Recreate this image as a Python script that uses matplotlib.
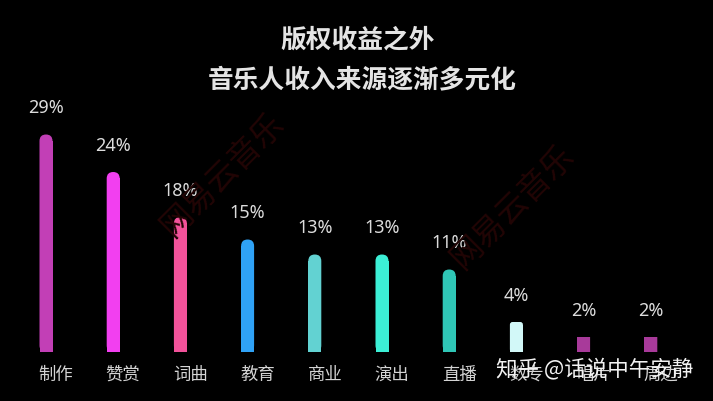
import numpy as np
import matplotlib.pyplot as plt
from matplotlib.patches import FancyBboxPatch

plt.rcParams['font.family'] = ['Noto Sans CJK SC', 'DejaVu Sans']

categories = ['制作', '赞赏', '词曲', '教育', '商业', '演出', '直播', '数专', '唱片', '周边']
values = [29, 24, 18, 15, 13, 13, 11, 4, 2, 2]
colors = ['#c23fb6', '#f23ff0', '#f2529a', '#2fa2f6', '#62d2d2', '#3cefd6',
          '#2fc6b6', '#d2f8f8', '#a83a9a', '#a83a9a']
title_lines = ['版权收益之外', '音乐人收入来源逐渐多元化']

W, H = 713, 401
fig = plt.figure(figsize=(W / 100, H / 100), dpi=100, facecolor='black')

# axes placed so bar 0 sits at x=46px, bottom at y=352px, 7.5 px per percent
step = 67.2
ax_left = 46 - step / 2
ax_w = step * len(categories)
ax_bottom = H - 352
ax_h = 7.5 * 30
ax = fig.add_axes([ax_left / W, ax_bottom / H, ax_w / W, ax_h / H])
ax.set_facecolor('black')
ax.set_xlim(-0.5, len(categories) - 0.5)
ax.set_ylim(0, 30)
ax.axis('off')

x = np.arange(len(categories))
bw = 13 / step
# px->data scale
sx = step          # px per x-unit
sy = 7.5           # px per y-unit
aspect = sx / sy

# faint watermarks behind the bars
fig.text(222 / W, 1 - 175 / H, '网易云音乐', rotation=45, ha='center', va='center',
         color='#220505', fontsize=23, zorder=0)
fig.text(512 / W, 1 - 207 / H, '网易云音乐', rotation=45, ha='center', va='center',
         color='#220505', fontsize=23, zorder=0)

for xi, v, c in zip(x, values, colors):
    if v >= 10:
        r = bw / 2
    elif v >= 4:
        r = bw / 5
    else:
        r = 0.0001
    ry = r * aspect
    ax.bar(xi, max(v - ry, 0.01), width=bw, color=c, linewidth=0)
    p = FancyBboxPatch((xi - bw / 2, 0), bw, v,
                       boxstyle='round,pad=0,rounding_size=%f' % r,
                       mutation_aspect=aspect, facecolor=c, edgecolor='none')
    ax.add_patch(p)
    ax.annotate('%d%%' % v, (xi, v), xytext=(0, 17), textcoords='offset pixels',
                ha='center', va='bottom', color='#dcdcdc', fontsize=13,
                family=['Noto Sans', 'DejaVu Sans'])
    ax.annotate(categories[xi], (xi, 0), xytext=(10, -23), textcoords='offset pixels',
                ha='center', va='center', color='#d4d4d4', fontsize=12.5,
                annotation_clip=False)

fig.text(358 / W, 1 - 40 / H, title_lines[0], ha='center', va='center',
         color='#e4e4e4', fontsize=18.5, fontweight='bold')
fig.text(362 / W, 1 - 80 / H, title_lines[1], ha='center', va='center',
         color='#e4e4e4', fontsize=18.5, fontweight='bold')

fig.text(595 / W, 1 - 369 / H, '知乎 @话说中午安静', ha='center', va='center',
         color='#f2f2f2', fontsize=15.5)

fig.savefig('out.png', dpi=100, facecolor='black')
